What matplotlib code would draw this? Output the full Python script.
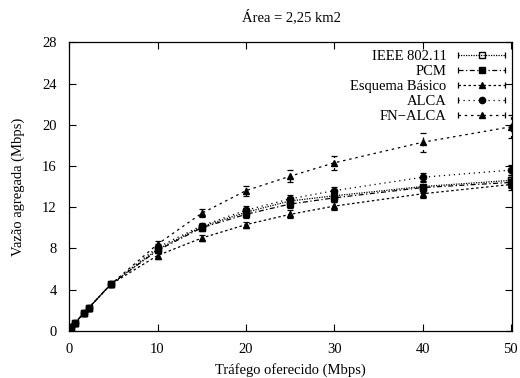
import matplotlib
matplotlib.use("Agg")
import matplotlib.pyplot as plt
from matplotlib.lines import Line2D
from matplotlib.legend_handler import HandlerBase

plt.rcParams['font.family'] = ['Liberation Serif', 'DejaVu Serif']
plt.rcParams['font.size'] = 10.5

offered = [0.2, 0.7, 1.7, 2.2, 4.7, 10, 15, 20, 25, 30, 40, 50]

ieee = [0.4, 0.8, 1.75, 2.2, 4.5, 7.9, 10.1, 11.5, 12.6, 13.1, 14.0, 14.6]
pcm = [0.4, 0.8, 1.75, 2.2, 4.5, 7.8, 10.0, 11.3, 12.3, 12.9, 13.9, 14.4]
basic = [0.4, 0.8, 1.75, 2.2, 4.5, 7.3, 9.0, 10.3, 11.3, 12.1, 13.3, 14.2]
alca = [0.4, 0.8, 1.75, 2.2, 4.5, 8.1, 10.2, 11.7, 12.8, 13.6, 14.9, 15.6]
fnalca = [0.4, 0.8, 1.75, 2.2, 4.5, 8.4, 11.4, 13.6, 15.0, 16.3, 18.3, 19.8]

ieee_err = [0, 0, 0, 0, 0, 0.3, 0.3, 0.4, 0.4, 0.4, 0.5, 0.5]
pcm_err = [0, 0, 0, 0, 0, 0.3, 0.3, 0.4, 0.4, 0.4, 0.5, 0.5]
basic_err = [0, 0, 0, 0, 0, 0.3, 0.3, 0.3, 0.4, 0.4, 0.4, 0.5]
alca_err = [0, 0, 0, 0, 0, 0.3, 0.3, 0.4, 0.4, 0.4, 0.4, 0.5]
fnalca_err = [0, 0, 0, 0, 0, 0.3, 0.4, 0.5, 0.6, 0.7, 0.9, 1.1]

labels = ['IEEE 802.11', 'PCM', 'Esquema Básico', 'ALCA', 'FN\u2212ALCA']
yticks = [0, 4, 8, 12, 16, 20, 24, 28]
xticks = [0, 10, 20, 30, 40, 50]


class CapHandler(HandlerBase):
    def __init__(self, ls, **kw):
        super().__init__(**kw)
        self.ls = ls

    def create_artists(self, legend, orig, xdescent, ydescent, width, height,
                       fontsize, trans):
        y = height / 2 - ydescent
        x0, x1 = -xdescent, width - xdescent
        line = Line2D([x0, x1], [y, y], color='black', lw=0.9, ls=self.ls)
        caps = Line2D([x0, x1], [y, y], ls='none', marker='|', ms=4,
                      mew=0.9, color='black')
        mk = Line2D([(x0 + x1) / 2], [y], ls='none', marker=orig.get_marker(),
                    ms=orig.get_markersize(), mfc=orig.get_markerfacecolor(),
                    mec='black', mew=orig.get_markeredgewidth())
        for a in (line, caps, mk):
            a.set_transform(trans)
        return [line, caps, mk]


fig = plt.figure(figsize=(5.2, 3.78), dpi=100)
ax = fig.add_axes([0.133, 0.125, 0.852, 0.763])

series = [
    (ieee, ieee_err, 's', 'none', (0, (1, 1)), 4.5, 2),
    (pcm, pcm_err, 's', 'black', (0, (4, 2, 1, 2)), 5, 6),
    (basic, basic_err, '^', 'black', (0, (2, 2)), 5, 3),
    (alca, alca_err, 'o', 'black', (0, (1, 3)), 4.5, 4),
    (fnalca, fnalca_err, '^', 'black', (0, (2, 3)), 4.5, 5),
]
handles = []
hmap = {}
for (vals, err, mk, fc, ls, ms, z), lab in zip(series, labels):
    eb = ax.errorbar(offered, vals, yerr=err, fmt=mk, color='black',
                     mfc=fc, mec='black', ms=ms, ls=ls, lw=0.9,
                     elinewidth=0.9, capsize=2.5, capthick=0.9,
                     label=lab, zorder=z)
    for b in eb[2]:
        b.set_linestyle(ls)
    handles.append(eb[0])
    hmap[eb[0]] = CapHandler(ls)

ax.set_xlim(0, 50.15)
ax.set_ylim(0, 28)
ax.set_xticks(xticks)
ax.set_yticks(yticks)
ax.tick_params(direction='in', top=True, right=True, length=5, width=0.8,
               labelsize=10.5)
ax.tick_params(axis='y', pad=9)
ax.tick_params(axis='x', pad=9)
for s in ax.spines.values():
    s.set_linewidth(0.9)

ax.set_xlabel('Tráfego oferecido (Mbps)', fontsize=10.5, labelpad=5)
ax.set_ylabel('Vazão agregada (Mbps)', fontsize=10.5, labelpad=12)
fig.suptitle('Área = 2,25 km2', fontsize=10.5, y=0.975, x=0.56)

leg = ax.legend(handles, labels, loc='upper right', frameon=False,
                markerfirst=False, handlelength=3.2, labelspacing=0.12,
                borderaxespad=0.1, handletextpad=0.8, fontsize=10.5,
                handler_map=hmap)

fig.savefig('out.png', dpi=100)
